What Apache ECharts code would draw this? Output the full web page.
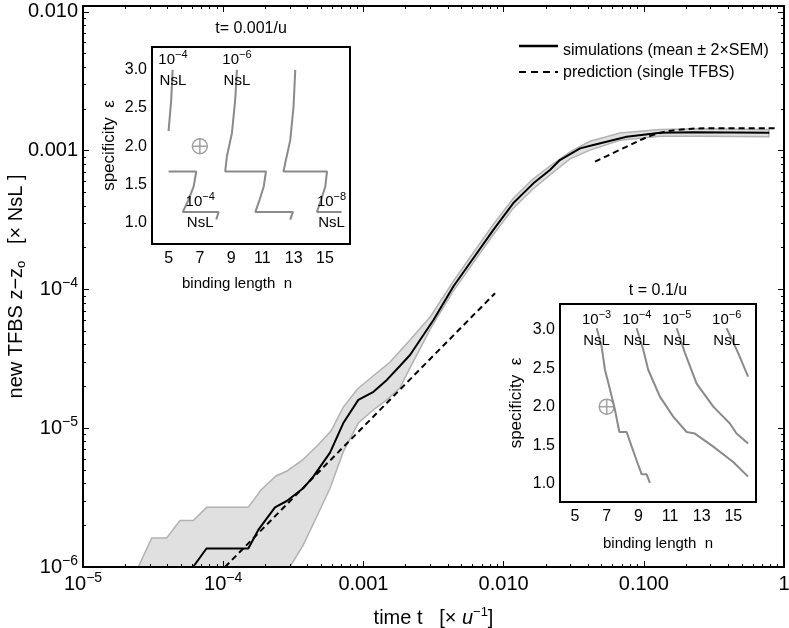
<!DOCTYPE html>
<html>
<head>
<meta charset="utf-8">
<script src="https://cdn.jsdelivr.net/npm/echarts@6/dist/echarts.min.js"></script>
<style>html,body{margin:0;padding:0;background:#fff}#chart{width:789px;height:628px}</style>
</head>
<body>
<div id="chart"></div>
<script>
//1. data
// main plot: time t [1/u] vs new TFBS z - z0 [NsL]
var meanT = [4.92e-5, 6.1e-5, 7.6e-5, 1.51e-4, 1.78e-4, 2.34e-4, 2.84e-4, 3.72e-4, 4.39e-4, 5.78e-4, 7.19e-4, 9.2e-4, 1.18e-3, 1.47e-3, 1.82e-3, 2.15e-3, 3.16e-3, 4.38e-3, 6.08e-3, 8.45e-3, 1.17e-2, 1.63e-2, 2.14e-2, 2.52e-2, 3.51e-2, 4.36e-2, 7.55e-2, 0.131, 0.225, 0.785];
var meanZ = [1e-6, 1e-6, 1.36e-6, 1.36e-6, 1.85e-6, 2.69e-6, 2.99e-6, 3.69e-6, 4.48e-6, 6.67e-6, 1.09e-5, 1.6e-5, 1.83e-5, 2.23e-5, 2.81e-5, 3.37e-5, 6.03e-5, 1.05e-4, 1.68e-4, 2.69e-4, 4.18e-4, 5.82e-4, 7.26e-4, 8.57e-4, 1.04e-3, 1.10e-3, 1.26e-3, 1.35e-3, 1.36e-3, 1.35e-3];
// band (mean +/- 2 SEM), upper and lower edge
var upT = [2.48e-5, 3.09e-5, 3.95e-5, 4.92e-5, 6.12e-5, 7.62e-5, 1.51e-4, 1.86e-4, 2.38e-4, 2.85e-4, 3.65e-4, 4.74e-4, 5.87e-4, 7.19e-4, 9.08e-4, 1.15e-3, 1.55e-3, 2.15e-3, 3.03e-3, 4.36e-3, 6.05e-3, 8.4e-3, 1.17e-2, 1.62e-2, 2.14e-2, 2.98e-2, 4.13e-2, 6.76e-2, 0.131, 0.252, 0.78];
var upZ = [1e-6, 1.62e-6, 1.62e-6, 2.16e-6, 2.16e-6, 2.69e-6, 2.69e-6, 3.59e-6, 4.53e-6, 4.92e-6, 5.86e-6, 7.57e-6, 9.55e-6, 1.42e-5, 1.92e-5, 2.34e-5, 3.0e-5, 4.33e-5, 6.44e-5, 1.14e-4, 1.83e-4, 2.92e-4, 4.53e-4, 6.25e-4, 7.76e-4, 9.8e-4, 1.17e-3, 1.34e-3, 1.42e-3, 1.44e-3, 1.42e-3];
var loT = [2.99e-4, 3.72e-4, 4.65e-4, 5.78e-4, 7.19e-4, 9.2e-4, 1.18e-3, 1.47e-3, 1.82e-3, 2.15e-3, 3.03e-3, 4.36e-3, 6.05e-3, 8.4e-3, 1.17e-2, 1.62e-2, 2.14e-2, 2.98e-2, 4.13e-2, 6.76e-2, 0.131, 0.252, 0.78];
var loZ = [1e-6, 1.44e-6, 2.31e-6, 3.69e-6, 6.78e-6, 1.09e-5, 1.36e-5, 1.6e-5, 1.95e-5, 2.72e-5, 5.28e-5, 9.68e-5, 1.55e-4, 2.47e-4, 3.84e-4, 5.3e-4, 6.68e-4, 8.73e-4, 1.01e-3, 1.19e-3, 1.27e-3, 1.27e-3, 1.26e-3];
// prediction (single TFBS)
var predLowT = [1.03e-4, 8.69e-3];
var predLowZ = [1e-6, 9.4e-5];
var predHighT = [4.49e-2, 7.55e-2, 0.117, 0.172, 0.296, 0.877];
var predHighZ = [8.34e-4, 1.07e-3, 1.3e-3, 1.41e-3, 1.45e-3, 1.45e-3];

// tick labels
var xTicks = [1e-5, 1e-4, 0.001, 0.01, 0.1, 1];
var xTickLabels = ['10^\u22125', '10^\u22124', '0.001', '0.010', '0.100', '1'];
var yTicks = [1e-6, 1e-5, 1e-4, 0.001, 0.01];
var yTickLabels = ['10^\u22126', '10^\u22125', '10^\u22124', '0.001', '0.010'];
var insetXTicks = [5, 7, 9, 11, 13, 15];
var insetYTicks = [1.0, 1.5, 2.0, 2.5, 3.0];

// inset 1 (t = 0.001/u): contours [n, eps]
var in1a = [[5.26, 3.0], [5.17, 2.61], [5.0, 2.2]];
var in1b = [[5.0, 1.67], [6.77, 1.67], [6.6, 1.47], [6.28, 1.30], [5.91, 1.14], [8.2, 1.14], [8.05, 1.04]];
var in1c = [[9.37, 3.0], [9.26, 2.61], [9.05, 2.17], [8.73, 1.87], [8.62, 1.67], [11.23, 1.67], [11.08, 1.47], [10.82, 1.30], [10.55, 1.14], [12.95, 1.14], [12.78, 1.04]];
var in1d = [[13.1, 3.0], [12.99, 2.52], [12.78, 2.08], [12.46, 1.78], [12.35, 1.67], [15.13, 1.67], [15.02, 1.47], [14.75, 1.30], [14.49, 1.14], [16.06, 1.14]];
var in1Labels = [['\u22124', 5.28, 2.99], ['\u22126', 9.37, 2.99], ['\u22124', 7.02, 1.13], ['\u22128', 15.42, 1.13]];
// inset 2 (t = 0.1/u)
var in2a = [[6.37, 3.02], [6.68, 2.78], [6.89, 2.48], [7.21, 2.22], [7.52, 1.96], [7.8, 1.67], [8.26, 1.67], [8.58, 1.48], [8.89, 1.30], [9.21, 1.12], [9.52, 1.12], [9.73, 1.01]];
var in2b = [[8.89, 3.02], [9.31, 2.74], [9.62, 2.48], [10.36, 2.13], [11.2, 1.87], [12.05, 1.67], [12.57, 1.65], [13.73, 1.48], [14.99, 1.28], [15.93, 1.09]];
var in2c = [[11.42, 3.02], [11.94, 2.70], [12.68, 2.30], [13.73, 2.0], [14.78, 1.78], [15.2, 1.65], [15.93, 1.52]];
var in2d = [[14.57, 3.02], [15.3, 2.7], [15.93, 2.39]];
var in2Labels = [['\u22123', 6.36, 2.99], ['\u22124', 8.9, 2.99], ['\u22125', 11.42, 2.99], ['\u22126', 14.58, 2.99]];
var optimum = [7, 2.0];

//2. chart
var FONT = '"Liberation Sans", Arial, Helvetica, sans-serif';
var lg = Math.log10;
function toLog(ts, zs) { return ts.map(function (t, i) { return [lg(t), lg(zs[i])]; }); }
function minors(lo, hi) {
    var out = [];
    for (var n = lo; n < hi; n++) for (var k = 2; k <= 9; k++) out.push(n + lg(k));
    return out;
}
function richOf(s) {
    var p = s.split('^');
    return p.length > 1 ? '{b|' + p[0] + '}{s|' + p[1] + '}' : '{b|' + s + '}';
}
function labelFor(ticks, labels) {
    return function (v) {
        for (var i = 0; i < ticks.length; i++) if (Math.abs(lg(ticks[i]) - v) < 1e-6) return richOf(labels[i]);
        return '';
    };
}
var mainRich = {
    b: { fontSize: 20, lineHeight: 26, fontFamily: FONT, color: '#000' },
    s: { fontSize: 14, lineHeight: 11, verticalAlign: 'top', fontFamily: FONT, color: '#000' }
};
var inRich = {
    b: { fontSize: 15, lineHeight: 21, fontFamily: FONT, color: '#000' },
    s: { fontSize: 11, lineHeight: 9, verticalAlign: 'top', fontFamily: FONT, color: '#000' }
};
var blk = { color: '#000', width: 2 };
var xMajor = xTicks.map(lg), yMajor = yTicks.map(lg);
var xMinor = minors(-5, 0), yMinor = minors(-6, -2);
var inYMinor = [];
for (var e = 8; e <= 33; e++) if (e % 5 !== 0) inYMinor.push(e / 10);

function tickAxis(grid, pos, min, max, vals, len, extra) {
    var a = {
        gridIndex: grid, type: 'value', position: pos, min: min, max: max, z: 3,
        nameMoveOverlap: false,
        axisLine: { show: false, onZero: false },
        axisTick: { show: true, inside: true, length: len, customValues: vals, lineStyle: { color: '#000', width: 1 } },
        axisLabel: { show: false },
        splitLine: { show: false }
    };
    for (var k in extra) a[k] = extra[k];
    return a;
}
var inLabel = { show: true, customValues: insetXTicks, margin: 7, fontSize: 16, color: '#000', fontFamily: FONT };
var inYLabel = { show: true, customValues: insetYTicks, margin: 5, fontSize: 16, color: '#000', fontFamily: FONT,
    formatter: function (v) { return v.toFixed(1); } };

var mychart = echarts.init(document.getElementById('chart'));
var option = {
    backgroundColor: '#fff',
    animation: false,
    grid: [
        { left: 83, top: 6, width: 701, height: 561, show: false, outerBoundsMode: 'none' },
        { left: 152, top: 47, width: 198, height: 197, show: true, backgroundColor: '#fff', borderColor: '#000', borderWidth: 2, z: 4, outerBoundsMode: 'none' },
        { left: 560, top: 304, width: 196, height: 198, show: true, backgroundColor: '#fff', borderColor: '#000', borderWidth: 2, z: 4, outerBoundsMode: 'none' }
    ],
    // legend drawn by hand so the keys are plain line samples
    graphic: [
        { type: 'line', shape: { x1: 519, y1: 46, x2: 558, y2: 46 }, style: { stroke: '#000', lineWidth: 2.5 } },
        { type: 'text', x: 563, y: 51, style: { text: 'simulations (mean \u00b1 2\u00d7SEM)', font: '16px ' + FONT, fill: '#000', verticalAlign: 'middle' } },
        { type: 'line', shape: { x1: 519, y1: 72, x2: 558, y2: 72 }, style: { stroke: '#000', lineWidth: 2, lineDash: [7, 5] } },
        { type: 'text', x: 563, y: 73, style: { text: 'prediction (single TFBS)', font: '16px ' + FONT, fill: '#000', verticalAlign: 'middle' } }
    ],
    xAxis: [
        tickAxis(0, 'bottom', -5, 0, xMajor, 6, {
            axisLine: { show: true, onZero: false, lineStyle: blk },
            axisLabel: { show: true, customValues: xMajor, margin: 4, formatter: labelFor(xTicks, xTickLabels), rich: mainRich },
            name: '{n|time t   [\u00d7 }{i|u}{s|\u22121}{n|]}', nameLocation: 'middle', nameGap: 39,
            nameTextStyle: { rich: {
                n: { fontSize: 20, lineHeight: 24, fontFamily: FONT, color: '#000' },
                i: { fontSize: 20, lineHeight: 24, fontStyle: 'italic', fontFamily: FONT, color: '#000' },
                s: { fontSize: 13, lineHeight: 10, verticalAlign: 'top', fontFamily: FONT, color: '#000' } } }
        }),
        tickAxis(0, 'bottom', -5, 0, xMinor, 3, {}),
        tickAxis(0, 'top', -5, 0, xMajor, 6, { axisLine: { show: true, onZero: false, lineStyle: blk } }),
        tickAxis(0, 'top', -5, 0, xMinor, 3, {}),
        tickAxis(1, 'bottom', 3.94, 16.6, insetXTicks, 4, {
            axisLabel: inLabel,
            name: 'binding length  n', nameLocation: 'middle', nameGap: 32,
            nameTextStyle: { fontSize: 15, color: '#000', fontFamily: FONT, padding: [0, 28, 0, 0] }
        }),
        tickAxis(1, 'top', 3.94, 16.6, [], 0, {
            axisTick: { show: false },
            name: 't= 0.001/u', nameLocation: 'middle', nameGap: 10,
            nameTextStyle: { fontSize: 16, color: '#000', fontFamily: FONT }
        }),
        tickAxis(2, 'bottom', 4.05, 16.43, insetXTicks, 4, {
            axisLabel: inLabel,
            name: 'binding length  n', nameLocation: 'middle', nameGap: 34,
            nameTextStyle: { fontSize: 15, color: '#000', fontFamily: FONT }
        }),
        tickAxis(2, 'top', 4.05, 16.43, [], 0, {
            axisTick: { show: false },
            name: 't = 0.1/u', nameLocation: 'middle', nameGap: 5,
            nameTextStyle: { fontSize: 16, color: '#000', fontFamily: FONT }
        })
    ],
    yAxis: [
        tickAxis(0, 'left', -6, -1.957, yMajor, 6, {
            axisLine: { show: true, onZero: false, lineStyle: blk },
            axisLabel: { show: true, customValues: yMajor, margin: 5, formatter: labelFor(yTicks, yTickLabels), rich: mainRich },
            name: '{n|new TFBS z\u2212z}{o|o}{n|   [\u00d7 NsL ]}', nameLocation: 'middle', nameGap: 55,
            nameTextStyle: { rich: {
                n: { fontSize: 20, lineHeight: 24, fontFamily: FONT, color: '#000' },
                o: { fontSize: 13, lineHeight: 14, verticalAlign: 'bottom', fontFamily: FONT, color: '#000' } } }
        }),
        tickAxis(0, 'left', -6, -1.957, yMinor, 3, {}),
        tickAxis(0, 'right', -6, -1.957, yMajor, 6, { axisLine: { show: true, onZero: false, lineStyle: blk } }),
        tickAxis(0, 'right', -6, -1.957, yMinor, 3, {}),
        tickAxis(1, 'left', 0.72, 3.3, insetYTicks, 4, {
            axisLabel: inYLabel,
            name: 'specificity  \u03b5', nameLocation: 'middle', nameGap: 34,
            nameTextStyle: { fontSize: 17, color: '#000', fontFamily: FONT }
        }),
        tickAxis(1, 'left', 0.72, 3.3, inYMinor, 2, {}),
        tickAxis(2, 'left', 0.76, 3.335, insetYTicks, 4, {
            axisLabel: inYLabel,
            name: 'specificity  \u03b5', nameLocation: 'middle', nameGap: 35,
            nameTextStyle: { fontSize: 17, color: '#000', fontFamily: FONT }
        }),
        tickAxis(2, 'left', 0.76, 3.335, inYMinor, 2, {})
    ],
    series: []
};

// band polygon through the axis scales
option.series.push({
    type: 'custom', xAxisIndex: 0, yAxisIndex: 0, clip: true, silent: true, z: 1,
    data: [[-3, -4]],
    renderItem: function (params, api) {
        var pts = [];
        for (var i = 0; i < upT.length; i++) pts.push(api.coord([lg(upT[i]), lg(upZ[i])]));
        for (var j = loT.length - 1; j >= 0; j--) pts.push(api.coord([lg(loT[j]), lg(loZ[j])]));
        return { type: 'polygon', shape: { points: pts }, style: { fill: '#e0e0e0', stroke: '#b2b2b2', lineWidth: 1.5 } };
    }
});
option.series.push({
    name: 'simulations (mean \u00b1 2\u00d7SEM)', type: 'line', xAxisIndex: 0, yAxisIndex: 0,
    data: toLog(meanT, meanZ), symbol: 'none', z: 2,
    lineStyle: { color: '#000', width: 2 }, itemStyle: { color: '#000' }
});
[[predLowT, predLowZ, false], [predHighT, predHighZ, 0.4]].forEach(function (p) {
    option.series.push({
        name: 'prediction (single TFBS)', type: 'line', xAxisIndex: 0, yAxisIndex: 0,
        data: toLog(p[0], p[1]), symbol: 'none', smooth: p[2], z: 2,
        lineStyle: { color: '#000', width: 2, type: [6, 4] }, itemStyle: { color: '#000' }
    });
});

function insetSeries(xi, yi, curves, labels) {
    curves.forEach(function (c) {
        option.series.push({
            type: 'line', xAxisIndex: xi, yAxisIndex: yi, data: c, symbol: 'none', z: 5,
            lineStyle: { color: '#8a8a8a', width: 2 }
        });
    });
    option.series.push({
        type: 'scatter', xAxisIndex: xi, yAxisIndex: yi, data: [optimum], z: 5,
        symbol: 'path://M10,0A10,10,0,1,1,10,20A10,10,0,1,1,10,0ZM10,0L10,20M0,10L20,10',
        symbolSize: 15,
        itemStyle: { color: 'rgba(0,0,0,0)', borderColor: '#8a8a8a', borderWidth: 1.5 }
    });
    option.series.push({
        type: 'scatter', xAxisIndex: xi, yAxisIndex: yi, z: 6, symbolSize: 1,
        itemStyle: { color: 'rgba(0,0,0,0)' },
        data: labels.map(function (l) { return { name: l[0], value: [l[1], l[2]] }; }),
        label: {
            show: true, position: 'inside', color: '#000', opacity: 1,
            formatter: function (p) { return '{b|10}{s|' + p.name + '}\n{b|NsL}'; },
            rich: inRich
        }
    });
}
insetSeries(4, 4, [in1a, in1b, in1c, in1d], in1Labels);
insetSeries(6, 6, [in2a, in2b, in2c, in2d], in2Labels);

mychart.setOption(option);
</script>
</body>
</html>
